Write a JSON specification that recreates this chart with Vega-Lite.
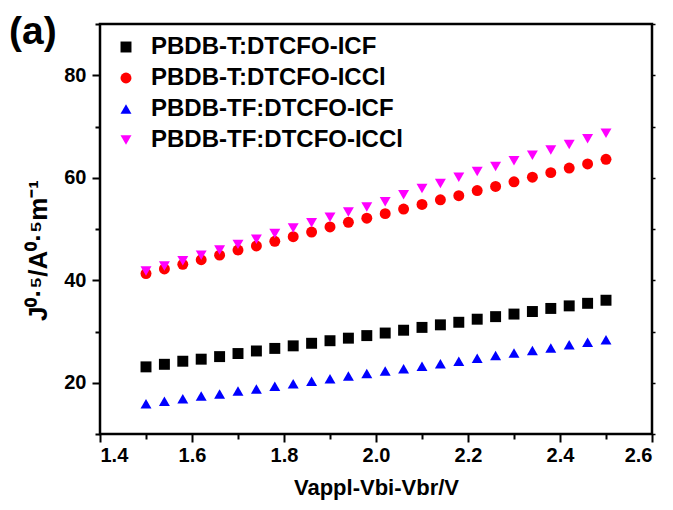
{
  "$schema": "https://vega.github.io/schema/vega-lite/v6.json",
  "autosize": {"type": "none"},
  "padding": {"left": 100, "top": 24, "right": 21, "bottom": 76},
  "width": 552,
  "height": 410,
  "background": "white",
  "title": {"text": "(a)", "anchor": "start", "frame": "group", "orient": "top", "dx": -91, "dy": 64, "fontSize": 39, "fontWeight": "bold", "font": "Liberation Sans", "color": "black", "baseline": "alphabetic"},
  "config": {
    "font": "Liberation Sans",
    "view": {"stroke": "black", "strokeWidth": 2.5},
    "axis": {"grid": false, "domain": false, "tickColor": "black", "tickWidth": 2, "labelColor": "black", "titleColor": "black"}
  },
  "data": {"values": [
    {"s": "PBDB-T:DTCFO-ICF", "x": 1.50, "y": 23.1},
    {"s": "PBDB-T:DTCFO-ICF", "x": 1.54, "y": 23.6},
    {"s": "PBDB-T:DTCFO-ICF", "x": 1.58, "y": 24.2},
    {"s": "PBDB-T:DTCFO-ICF", "x": 1.62, "y": 24.6},
    {"s": "PBDB-T:DTCFO-ICF", "x": 1.66, "y": 25.1},
    {"s": "PBDB-T:DTCFO-ICF", "x": 1.70, "y": 25.7},
    {"s": "PBDB-T:DTCFO-ICF", "x": 1.74, "y": 26.2},
    {"s": "PBDB-T:DTCFO-ICF", "x": 1.78, "y": 26.7},
    {"s": "PBDB-T:DTCFO-ICF", "x": 1.82, "y": 27.2},
    {"s": "PBDB-T:DTCFO-ICF", "x": 1.86, "y": 27.7},
    {"s": "PBDB-T:DTCFO-ICF", "x": 1.90, "y": 28.2},
    {"s": "PBDB-T:DTCFO-ICF", "x": 1.94, "y": 28.7},
    {"s": "PBDB-T:DTCFO-ICF", "x": 1.98, "y": 29.2},
    {"s": "PBDB-T:DTCFO-ICF", "x": 2.02, "y": 29.7},
    {"s": "PBDB-T:DTCFO-ICF", "x": 2.06, "y": 30.25},
    {"s": "PBDB-T:DTCFO-ICF", "x": 2.10, "y": 30.8},
    {"s": "PBDB-T:DTCFO-ICF", "x": 2.14, "y": 31.3},
    {"s": "PBDB-T:DTCFO-ICF", "x": 2.18, "y": 31.8},
    {"s": "PBDB-T:DTCFO-ICF", "x": 2.22, "y": 32.4},
    {"s": "PBDB-T:DTCFO-ICF", "x": 2.26, "y": 32.9},
    {"s": "PBDB-T:DTCFO-ICF", "x": 2.30, "y": 33.4},
    {"s": "PBDB-T:DTCFO-ICF", "x": 2.34, "y": 33.9},
    {"s": "PBDB-T:DTCFO-ICF", "x": 2.38, "y": 34.5},
    {"s": "PBDB-T:DTCFO-ICF", "x": 2.42, "y": 35.0},
    {"s": "PBDB-T:DTCFO-ICF", "x": 2.46, "y": 35.5},
    {"s": "PBDB-T:DTCFO-ICF", "x": 2.50, "y": 36.1},
    {"s": "PBDB-T:DTCFO-ICCl", "x": 1.50, "y": 41.3},
    {"s": "PBDB-T:DTCFO-ICCl", "x": 1.54, "y": 42.2},
    {"s": "PBDB-T:DTCFO-ICCl", "x": 1.58, "y": 43.1},
    {"s": "PBDB-T:DTCFO-ICCl", "x": 1.62, "y": 44.0},
    {"s": "PBDB-T:DTCFO-ICCl", "x": 1.66, "y": 44.9},
    {"s": "PBDB-T:DTCFO-ICCl", "x": 1.70, "y": 45.9},
    {"s": "PBDB-T:DTCFO-ICCl", "x": 1.74, "y": 46.7},
    {"s": "PBDB-T:DTCFO-ICCl", "x": 1.78, "y": 47.6},
    {"s": "PBDB-T:DTCFO-ICCl", "x": 1.82, "y": 48.5},
    {"s": "PBDB-T:DTCFO-ICCl", "x": 1.86, "y": 49.4},
    {"s": "PBDB-T:DTCFO-ICCl", "x": 1.90, "y": 50.4},
    {"s": "PBDB-T:DTCFO-ICCl", "x": 1.94, "y": 51.3},
    {"s": "PBDB-T:DTCFO-ICCl", "x": 1.98, "y": 52.1},
    {"s": "PBDB-T:DTCFO-ICCl", "x": 2.02, "y": 53.0},
    {"s": "PBDB-T:DTCFO-ICCl", "x": 2.06, "y": 53.9},
    {"s": "PBDB-T:DTCFO-ICCl", "x": 2.10, "y": 54.8},
    {"s": "PBDB-T:DTCFO-ICCl", "x": 2.14, "y": 55.7},
    {"s": "PBDB-T:DTCFO-ICCl", "x": 2.18, "y": 56.5},
    {"s": "PBDB-T:DTCFO-ICCl", "x": 2.22, "y": 57.5},
    {"s": "PBDB-T:DTCFO-ICCl", "x": 2.26, "y": 58.3},
    {"s": "PBDB-T:DTCFO-ICCl", "x": 2.30, "y": 59.2},
    {"s": "PBDB-T:DTCFO-ICCl", "x": 2.34, "y": 60.1},
    {"s": "PBDB-T:DTCFO-ICCl", "x": 2.38, "y": 61.0},
    {"s": "PBDB-T:DTCFO-ICCl", "x": 2.42, "y": 61.9},
    {"s": "PBDB-T:DTCFO-ICCl", "x": 2.46, "y": 62.7},
    {"s": "PBDB-T:DTCFO-ICCl", "x": 2.50, "y": 63.6},
    {"s": "PBDB-TF:DTCFO-ICF", "x": 1.50, "y": 15.9},
    {"s": "PBDB-TF:DTCFO-ICF", "x": 1.54, "y": 16.4},
    {"s": "PBDB-TF:DTCFO-ICF", "x": 1.58, "y": 16.9},
    {"s": "PBDB-TF:DTCFO-ICF", "x": 1.62, "y": 17.4},
    {"s": "PBDB-TF:DTCFO-ICF", "x": 1.66, "y": 17.8},
    {"s": "PBDB-TF:DTCFO-ICF", "x": 1.70, "y": 18.4},
    {"s": "PBDB-TF:DTCFO-ICF", "x": 1.74, "y": 18.8},
    {"s": "PBDB-TF:DTCFO-ICF", "x": 1.78, "y": 19.3},
    {"s": "PBDB-TF:DTCFO-ICF", "x": 1.82, "y": 19.8},
    {"s": "PBDB-TF:DTCFO-ICF", "x": 1.86, "y": 20.3},
    {"s": "PBDB-TF:DTCFO-ICF", "x": 1.90, "y": 20.8},
    {"s": "PBDB-TF:DTCFO-ICF", "x": 1.94, "y": 21.3},
    {"s": "PBDB-TF:DTCFO-ICF", "x": 1.98, "y": 21.8},
    {"s": "PBDB-TF:DTCFO-ICF", "x": 2.02, "y": 22.3},
    {"s": "PBDB-TF:DTCFO-ICF", "x": 2.06, "y": 22.75},
    {"s": "PBDB-TF:DTCFO-ICF", "x": 2.10, "y": 23.2},
    {"s": "PBDB-TF:DTCFO-ICF", "x": 2.14, "y": 23.7},
    {"s": "PBDB-TF:DTCFO-ICF", "x": 2.18, "y": 24.2},
    {"s": "PBDB-TF:DTCFO-ICF", "x": 2.22, "y": 24.8},
    {"s": "PBDB-TF:DTCFO-ICF", "x": 2.26, "y": 25.3},
    {"s": "PBDB-TF:DTCFO-ICF", "x": 2.30, "y": 25.8},
    {"s": "PBDB-TF:DTCFO-ICF", "x": 2.34, "y": 26.3},
    {"s": "PBDB-TF:DTCFO-ICF", "x": 2.38, "y": 26.8},
    {"s": "PBDB-TF:DTCFO-ICF", "x": 2.42, "y": 27.4},
    {"s": "PBDB-TF:DTCFO-ICF", "x": 2.46, "y": 27.9},
    {"s": "PBDB-TF:DTCFO-ICF", "x": 2.50, "y": 28.4},
    {"s": "PBDB-TF:DTCFO-ICCl", "x": 1.50, "y": 41.8},
    {"s": "PBDB-TF:DTCFO-ICCl", "x": 1.54, "y": 42.8},
    {"s": "PBDB-TF:DTCFO-ICCl", "x": 1.58, "y": 43.8},
    {"s": "PBDB-TF:DTCFO-ICCl", "x": 1.62, "y": 44.9},
    {"s": "PBDB-TF:DTCFO-ICCl", "x": 1.66, "y": 45.9},
    {"s": "PBDB-TF:DTCFO-ICCl", "x": 1.70, "y": 47.0},
    {"s": "PBDB-TF:DTCFO-ICCl", "x": 1.74, "y": 48.0},
    {"s": "PBDB-TF:DTCFO-ICCl", "x": 1.78, "y": 49.1},
    {"s": "PBDB-TF:DTCFO-ICCl", "x": 1.82, "y": 50.2},
    {"s": "PBDB-TF:DTCFO-ICCl", "x": 1.86, "y": 51.2},
    {"s": "PBDB-TF:DTCFO-ICCl", "x": 1.90, "y": 52.3},
    {"s": "PBDB-TF:DTCFO-ICCl", "x": 1.94, "y": 53.3},
    {"s": "PBDB-TF:DTCFO-ICCl", "x": 1.98, "y": 54.3},
    {"s": "PBDB-TF:DTCFO-ICCl", "x": 2.02, "y": 55.3},
    {"s": "PBDB-TF:DTCFO-ICCl", "x": 2.06, "y": 56.7},
    {"s": "PBDB-TF:DTCFO-ICCl", "x": 2.10, "y": 57.9},
    {"s": "PBDB-TF:DTCFO-ICCl", "x": 2.14, "y": 58.9},
    {"s": "PBDB-TF:DTCFO-ICCl", "x": 2.18, "y": 60.1},
    {"s": "PBDB-TF:DTCFO-ICCl", "x": 2.22, "y": 61.2},
    {"s": "PBDB-TF:DTCFO-ICCl", "x": 2.26, "y": 62.2},
    {"s": "PBDB-TF:DTCFO-ICCl", "x": 2.30, "y": 63.3},
    {"s": "PBDB-TF:DTCFO-ICCl", "x": 2.34, "y": 64.4},
    {"s": "PBDB-TF:DTCFO-ICCl", "x": 2.38, "y": 65.4},
    {"s": "PBDB-TF:DTCFO-ICCl", "x": 2.42, "y": 66.5},
    {"s": "PBDB-TF:DTCFO-ICCl", "x": 2.46, "y": 67.6},
    {"s": "PBDB-TF:DTCFO-ICCl", "x": 2.50, "y": 68.7}
  ]},
  "layer": [
    {
      "mark": {"type": "point", "filled": true, "opacity": 1, "size": 120},
      "encoding": {
        "x": {
          "field": "x", "type": "quantitative",
          "scale": {"domain": [1.4, 2.6], "nice": false, "zero": false},
          "axis": {
            "orient": "bottom",
            "values": [1.4, 1.6, 1.8, 2.0, 2.2, 2.4, 2.6],
            "format": ".1f",
            "tickSize": 8,
            "labelFontSize": 20, "labelFontWeight": "bold", "labelPadding": 3,
            "title": "Vappl-Vbi-Vbr/V",
            "titleFontSize": 22, "titleFontWeight": "bold", "titlePadding": 12
          }
        },
        "y": {
          "field": "y", "type": "quantitative",
          "scale": {"domain": [10, 90], "nice": false, "zero": false},
          "axis": {
            "orient": "left",
            "values": [20, 40, 60, 80],
            "tickSize": 8,
            "labelFontSize": 20, "labelFontWeight": "bold", "labelPadding": 6,
            "title": "J⁰·⁵/A⁰·⁵m⁻¹",
            "titleFontSize": 26, "titleFontWeight": "bold", "titlePadding": 12,
            "titleAnchor": "middle",
            "titleY": 226
          }
        },
        "color": {
          "field": "s", "type": "nominal",
          "scale": {
            "domain": ["PBDB-T:DTCFO-ICF", "PBDB-T:DTCFO-ICCl", "PBDB-TF:DTCFO-ICF", "PBDB-TF:DTCFO-ICCl"],
            "range": ["#000000", "#ff0000", "#0000ff", "#ff00ff"]
          },
          "legend": {
            "title": null, "orient": "none", "legendX": 14, "legendY": 11,
            "padding": 0, "rowPadding": 7, "labelOffset": 13,
            "labelFontSize": 24, "labelFontWeight": "bold", "labelColor": "black",
            "symbolSize": 120, "symbolStrokeWidth": 0, "labelLimit": 400
          }
        },
        "shape": {
          "field": "s", "type": "nominal",
          "scale": {
            "domain": ["PBDB-T:DTCFO-ICF", "PBDB-T:DTCFO-ICCl", "PBDB-TF:DTCFO-ICF", "PBDB-TF:DTCFO-ICCl"],
            "range": ["square", "circle", "triangle-up", "triangle-down"]
          }
        }
      }
    },
    {
      "mark": {"type": "point", "opacity": 0},
      "encoding": {
        "x": {
          "field": "x", "type": "quantitative",
          "axis": {"orient": "bottom", "values": [1.5, 1.7, 1.9, 2.1, 2.3, 2.5], "tickSize": 5, "labels": false, "title": null}
        },
        "y": {
          "field": "y", "type": "quantitative",
          "axis": {"orient": "left", "values": [10, 30, 50, 70, 90], "tickSize": 5, "labels": false, "title": null}
        }
      }
    },
    {
      "mark": {"type": "point", "opacity": 0},
      "encoding": {
        "x": {"field": "x", "type": "quantitative", "axis": null},
        "y": {
          "field": "y", "type": "quantitative",
          "axis": {"orient": "right", "values": [10, 20, 30, 40, 50, 60, 70, 80, 90], "tickSize": 3, "tickWidth": 1.5, "labels": false, "title": null}
        }
      }
    }
  ],
  "resolve": {"axis": {"x": "independent", "y": "independent"}}
}
